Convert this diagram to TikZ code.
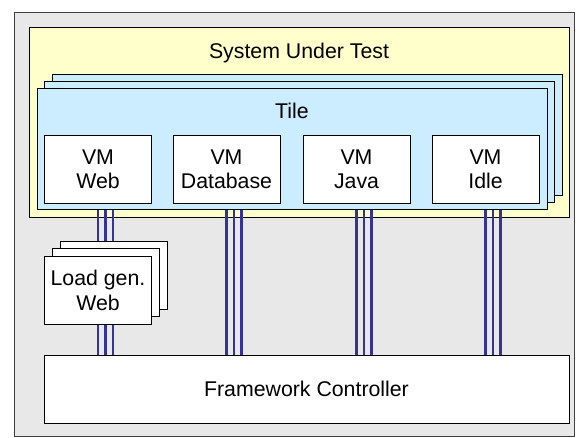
\documentclass[tikz,border=0pt]{standalone}
\usepackage{fontspec}
\setmainfont{Liberation Sans}
\usepackage{xcolor}
\usetikzlibrary{calc}
\definecolor{bgrey}{HTML}{E8E8E8}
\definecolor{sutyellow}{HTML}{FFFFCC}
\definecolor{tileblue}{HTML}{CCECFF}
\definecolor{busblue}{HTML}{333399}

\begin{document}
\begin{tikzpicture}[
  x=1pt, y=-1pt,
  font=\fontsize{21.3}{24.5}\selectfont,
  frame/.style={draw=black!75, line width=1pt, inner sep=0pt},
  tilebox/.style={draw, line width=1pt, fill=tileblue, inner sep=0pt,
              minimum width=510pt, minimum height=121pt},
  vmbox/.style={draw, line width=1pt, fill=white, align=center, inner sep=0pt,
              minimum width=107pt, minimum height=68pt},
  fcbox/.style={draw, line width=1pt, fill=white, inner sep=0pt,
              minimum width=525pt, minimum height=68pt},
  bus/.style={draw=busblue, line width=2.2pt}
]
\useasboundingbox (0,0) rectangle (586,438);
\node[frame, fill=bgrey, minimum width=560pt, minimum height=423pt] (outer) at (294,224.5) {};
\node[draw, line width=1pt, fill=sutyellow, inner sep=0pt,
  minimum width=540pt, minimum height=190pt] (sut) at (299,123) {};
\node (suttxt) at (299,53) {System Under Test};

% stacked tiles
\node[tilebox] (tileC) at (307,135.5) {};
\node[tilebox] (tileB) at (299.5,142.5) {};
\node[tilebox] (tileA) at (292,149.5) {};
\node (tiletxt) at (292,111) {Tile};

\node[vmbox] (vmweb) at (98,169.5) {VM\\Web};
\node[vmbox] (vmdb) at (226.5,169.5) {VM\\Database};
\node[vmbox] (vmjava) at (356.5,169.5) {VM\\Java};
\node[vmbox] (vmidle) at (485.5,169.5) {VM\\Idle};

\node[fcbox] (fc) at (306.5,389) {Framework Controller};

% buses to the controller
\foreach \vm in {vmweb,vmdb,vmjava,vmidle}
  \foreach \d in {0,7.5,15}
    \draw[bus] ($(tileA.south -| \vm)+(\d,0)$) -- ($(fc.north -| \vm)+(\d,0)$);

% load generators
\node[vmbox] (lgC) at (113.5,275.5) {};
\node[vmbox] (lgB) at (105.5,282.5) {};
\node[vmbox] (lgA) at (98,290.5) {Load gen.\\Web};
\end{tikzpicture}
\end{document}
